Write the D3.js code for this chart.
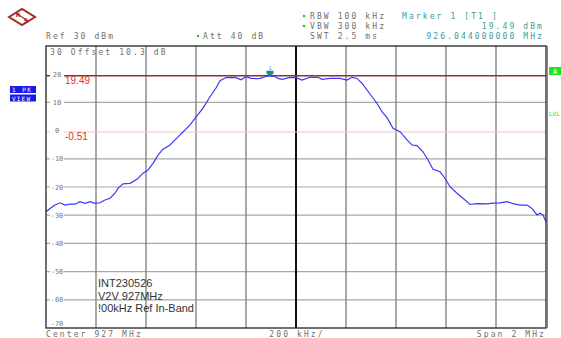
<!DOCTYPE html>
<html>
<head>
<meta charset="utf-8">
<script src="https://cdn.jsdelivr.net/npm/d3@7"></script>
<style>
  body { margin: 0; background: #fff; }
  svg { display: block; }
  .mono { font-family: "DejaVu Sans Mono", monospace; }
</style>
</head>
<body>
<div id="chart"></div>
<script>
// trace: frequency (MHz) and level (dBm)
const freqs = [926.000, 926.016, 926.036, 926.056, 926.076, 926.096, 926.116, 926.136, 926.156, 926.176,
  926.196, 926.216, 926.236, 926.256, 926.276, 926.288, 926.308, 926.336, 926.364, 926.388,
  926.408, 926.428, 926.448, 926.468, 926.496, 926.524, 926.548, 926.576, 926.600, 926.628,
  926.656, 926.680, 926.696, 926.720, 926.740, 926.760, 926.780, 926.800, 926.820, 926.840,
  926.856, 926.876, 926.896, 926.916, 926.928, 926.944, 926.976, 927.000, 927.024, 927.056,
  927.088, 927.104, 927.136, 927.176, 927.204, 927.224, 927.244, 927.264, 927.284, 927.304,
  927.324, 927.344, 927.364, 927.388, 927.416, 927.444, 927.464, 927.484, 927.508, 927.528,
  927.548, 927.576, 927.596, 927.616, 927.644, 927.668, 927.696, 927.724, 927.764, 927.788,
  927.816, 927.844, 927.868, 927.896, 927.924, 927.944, 927.964, 927.976, 927.988, 928.000];
const levels = [-28.8, -27.6, -26.4, -25.6, -26.4, -26.1, -26.1, -25.2, -25.8, -25.2,
  -25.8, -25.6, -24.6, -24.0, -22.2, -20.5, -18.9, -18.7, -17.3, -15.1,
  -14.0, -11.6, -8.7, -6.6, -5.1, -2.6, -0.5, 2.0, 4.8, 8.0,
  12.0, 15.1, 17.7, 18.8, 18.9, 18.8, 18.0, 19.1, 18.5, 18.4,
  18.5, 19.1, 19.49, 19.2, 18.5, 18.2, 18.9, 18.8, 17.9, 18.9,
  18.9, 18.2, 18.5, 18.5, 17.9, 18.9, 18.5, 16.8, 14.4, 12.0,
  9.7, 6.7, 4.6, 0.8, -0.4, -3.3, -5.1, -5.3, -7.5, -10.4,
  -13.7, -14.6, -16.9, -19.9, -22.2, -24.0, -26.2, -25.9, -26.0, -25.7,
  -25.6, -25.2, -25.9, -26.4, -26.4, -27.6, -29.9, -29.3, -29.9, -32.3];

const yTicks = [20, 10, 0, -10, -20, -30, -40, -50, -60];
const xTicks = [926.2, 926.4, 926.6, 926.8, 927.0, 927.2, 927.4, 927.6, 927.8];
const displayLines = [19.49, -0.51];
const markerFreq = 926.896, markerLevel = 19.49;
const noteLines = ["INT230526", "V2V 927MHz", "!00kHz Ref In-Band"];

const W = 561, H = 338;
const x = d3.scaleLinear().domain([926, 928]).range([46, 546]);
const y = d3.scaleLinear().domain([-70, 30]).range([328, 46]);

const svg = d3.select('#chart').append('svg').attr('width', W).attr('height', H);

// horizontal grid (the 20 and 0 rows are covered by the display lines)
svg.selectAll('.hg').data(yTicks.filter(d => d !== 20 && d !== 0)).enter().append('line')
  .attr('x1', x(926)).attr('x2', x(928))
  .attr('y1', d => y(d)).attr('y2', d => y(d))
  .attr('stroke', '#a8a8a8').attr('stroke-width', 1.2);

// vertical grid
svg.selectAll('.vg').data(xTicks).enter().append('line')
  .attr('x1', d => x(d)).attr('x2', d => x(d))
  .attr('y1', y(30)).attr('y2', y(-70))
  .attr('stroke', d => d === 927 ? '#111' : '#7a7a7a')
  .attr('stroke-width', d => d === 927 ? 2 : 1.3);

// display lines D1 / D2
svg.append('line').attr('x1', x(926)).attr('x2', x(928))
  .attr('y1', y(displayLines[0])).attr('y2', y(displayLines[0]))
  .attr('stroke', '#9b2c2c').attr('stroke-width', 1.5);
svg.append('line').attr('x1', x(926)).attr('x2', x(928))
  .attr('y1', y(displayLines[1])).attr('y2', y(displayLines[1]))
  .attr('stroke', '#f6c4c4').attr('stroke-width', 1);

svg.selectAll('.dl').data(displayLines).enter().append('text')
  .attr('x', 65).attr('y', d => y(d) + 8)
  .attr('font-family', 'Liberation Sans, Arial, sans-serif').attr('font-size', 10)
  .attr('fill', '#e03030').text(d => d.toFixed(2));

// y labels sitting on the gridlines; the bottom one sits just above the frame
const yl = svg.selectAll('.yl').data(yTicks.concat([-70])).enter().append('g')
  .attr('transform', d => `translate(0,${d === -70 ? y(d) - 5 : y(d)})`);
yl.append('rect').attr('x', 50).attr('y', -4).attr('width', 14).attr('height', 8).attr('fill', '#fff');
yl.append('text').attr('class', 'mono')
  .attr('x', 57).attr('y', 2.5)
  .attr('text-anchor', 'middle').attr('font-size', 7).attr('fill', '#777')
  .text(d => d);

// trace
const pts = freqs.map((f, i) => [f, levels[i]]);
svg.append('path').datum(pts)
  .attr('fill', 'none').attr('stroke', '#3a3af6').attr('stroke-width', 1.2)
  .attr('d', d3.line().x(d => x(d[0])).y(d => y(d[1])));

// marker 1
const mx = x(markerFreq), my = y(markerLevel);
svg.append('path')
  .attr('d', `M${mx - 3.5},${my - 5} L${mx + 3.5},${my - 5} L${mx + 3.5},${my - 2} L${mx},${my} L${mx - 3.5},${my - 2} Z`)
  .attr('fill', '#1a8a8a');
svg.append('text').attr('class', 'mono').attr('x', mx).attr('y', my - 6)
  .attr('text-anchor', 'middle').attr('font-size', 5).attr('fill', '#3aa0a0').text('1');

// frame
svg.append('rect').attr('x', 46).attr('y', 46).attr('width', 500).attr('height', 282)
  .attr('fill', 'none').attr('stroke', '#222').attr('stroke-width', 1.3);
svg.append('line').attr('x1', 547.5).attr('x2', 547.5).attr('y1', 46).attr('y2', 328)
  .attr('stroke', '#888').attr('stroke-width', 1);

// header texts
const hdr = (tx, ty, t, anchor, col) => svg.append('text').attr('class', 'mono')
  .attr('x', tx).attr('y', ty).attr('font-size', 8).attr('letter-spacing', 2.1)
  .attr('text-anchor', anchor || 'start').attr('fill', col || '#6f6f6f').text(t);
hdr(46, 39, 'Ref  30 dBm');
hdr(203, 39, 'Att  40 dB');
hdr(310, 19, 'RBW 100 kHz');
hdr(310, 29, 'VBW 300 kHz');
hdr(310, 39, 'SWT 2.5 ms');
hdr(402, 19, 'Marker 1 [T1 ]', 'start', '#3c9c9c');
hdr(544, 29, '19.49 dBm', 'end', '#3c9c9c');
hdr(544, 39, '926.044000000 MHz', 'end', '#3c9c9c');
hdr(50, 55, '30  Offset  10.3 dB');
// green asterisks
[[198, 36], [304, 16], [304, 26]].forEach(p => svg.append('circle')
  .attr('cx', p[0]).attr('cy', p[1]).attr('r', 1.3).attr('fill', '#22cc22'));

// bottom texts
hdr(46, 337, 'Center 927 MHz');
hdr(297, 337, '200 kHz/', 'middle');
hdr(546, 337, 'Span 2 MHz', 'end');

// left "1 PK VIEW" box
svg.append('rect').attr('x', 10).attr('y', 86).attr('width', 26).attr('height', 7).attr('fill', '#1a1ae6');
svg.append('rect').attr('x', 10).attr('y', 94.5).attr('width', 26).attr('height', 7).attr('fill', '#1a1ae6');
svg.append('text').attr('class', 'mono').attr('x', 12).attr('y', 92).attr('font-size', 6)
  .attr('letter-spacing', 1.5).attr('fill', '#fff').text('1 PK');
svg.append('text').attr('class', 'mono').attr('x', 12).attr('y', 100.5).attr('font-size', 6)
  .attr('letter-spacing', 1.2).attr('fill', '#fff').text('VIEW');

// right "A" / "LVL"
svg.append('rect').attr('x', 549).attr('y', 67).attr('width', 12).attr('height', 8).attr('fill', '#1ee61e');
svg.append('text').attr('class', 'mono').attr('x', 553).attr('y', 73.5).attr('font-size', 7)
  .attr('fill', '#fff').text('A');
svg.append('text').attr('class', 'mono').attr('x', 549).attr('y', 116).attr('font-size', 6)
  .attr('fill', '#22dd22').text('LVL');

// R&S logo
const logo = svg.append('g').attr('transform', 'translate(22,17)');
logo.append('path').attr('d', 'M-13,0 L0,-8 L13,0 L0,8 Z')
  .attr('fill', 'none').attr('stroke', '#a52a2a').attr('stroke-width', 2);
logo.append('path').attr('d', 'M-6,-4 L6,4').attr('stroke', '#a52a2a').attr('stroke-width', 1.2);
logo.append('text').attr('x', -4).attr('y', -0.5).attr('font-size', 6).attr('font-weight', 'bold')
  .attr('font-family', 'DejaVu Sans, sans-serif').attr('text-anchor', 'middle').attr('fill', '#a52a2a').text('R');
logo.append('text').attr('x', 4).attr('y', 5.5).attr('font-size', 6).attr('font-weight', 'bold')
  .attr('font-family', 'DejaVu Sans, sans-serif').attr('text-anchor', 'middle').attr('fill', '#a52a2a').text('S');

// note box text
svg.selectAll('.note').data(noteLines).enter().append('text')
  .attr('x', 98).attr('y', (d, i) => 287 + i * 12.5)
  .attr('font-family', 'Liberation Sans, Arial, sans-serif').attr('font-size', 11)
  .attr('fill', '#333').text(d => d);
</script>
</body>
</html>
